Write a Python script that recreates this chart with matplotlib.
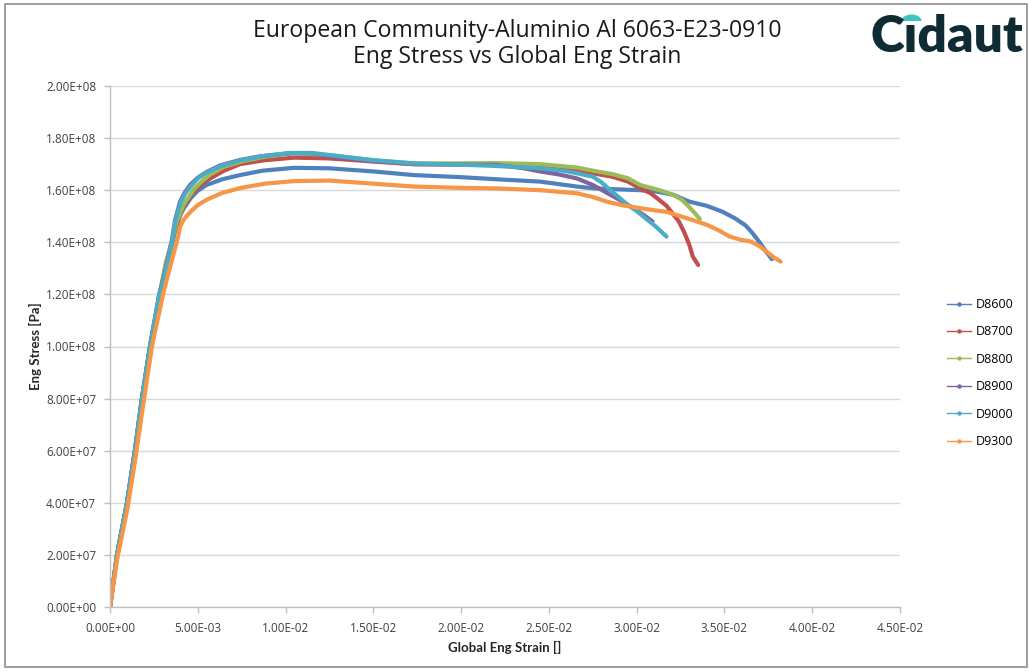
import matplotlib
matplotlib.use("Agg")
import matplotlib.pyplot as plt
from matplotlib.ticker import FuncFormatter, MultipleLocator
from matplotlib.lines import Line2D
from matplotlib.patches import Rectangle, Wedge

# ---------------- data (strain [-], stress [Pa]) ----------------
series_names = ["D8600", "D8700", "D8800", "D8900", "D9000", "D9300"]

d8600_strain = [0.0, 0.0004, 0.00097, 0.00142, 0.00182, 0.00228, 0.00284, 0.00330, 0.0037, 0.0040,
                0.0042, 0.0046, 0.0050, 0.0055, 0.0064, 0.0074, 0.0087, 0.0105, 0.0125, 0.0150,
                0.0173, 0.0200, 0.0220, 0.0245, 0.0266, 0.0276, 0.0290, 0.0302, 0.0312, 0.0321,
                0.0330, 0.0340, 0.0349, 0.0356, 0.0362, 0.0366, 0.0370, 0.0374, 0.0377]
d8600_stress = [0.0, 2.0e7, 4.0e7, 6.0e7, 8.0e7, 1.0e8, 1.2e8, 1.33e8, 1.44e8, 1.505e8,
                1.53e8, 1.57e8, 1.598e8, 1.62e8, 1.642e8, 1.658e8, 1.675e8, 1.686e8, 1.684e8, 1.672e8,
                1.658e8, 1.65e8, 1.642e8, 1.633e8, 1.614e8, 1.607e8, 1.603e8, 1.60e8, 1.594e8, 1.582e8,
                1.556e8, 1.54e8, 1.517e8, 1.492e8, 1.465e8, 1.435e8, 1.40e8, 1.362e8, 1.335e8]

d8700_strain = [0.0, 0.0004, 0.00097, 0.00142, 0.00182, 0.00228, 0.00283, 0.00320, 0.0036, 0.0038,
                0.0042, 0.0048, 0.0052, 0.0057, 0.0065, 0.0074, 0.0088, 0.0105, 0.0125, 0.0150,
                0.0173, 0.0200, 0.0220, 0.0245, 0.0263, 0.0275, 0.0286, 0.0295, 0.0302, 0.0308,
                0.0313, 0.0317, 0.0320, 0.0324, 0.0327, 0.0330, 0.0332, 0.0335]
d8700_stress = [0.0, 2.0e7, 4.0e7, 6.0e7, 8.0e7, 1.0e8, 1.2e8, 1.32e8, 1.42e8, 1.475e8,
                1.54e8, 1.595e8, 1.622e8, 1.645e8, 1.675e8, 1.70e8, 1.715e8, 1.725e8, 1.722e8, 1.71e8,
                1.70e8, 1.699e8, 1.698e8, 1.69e8, 1.68e8, 1.665e8, 1.652e8, 1.633e8, 1.607e8, 1.588e8,
                1.562e8, 1.54e8, 1.515e8, 1.48e8, 1.44e8, 1.39e8, 1.345e8, 1.313e8]

d8800_strain = [0.0, 0.0004, 0.00097, 0.00142, 0.00182, 0.00228, 0.00282, 0.00318, 0.0036, 0.0038,
                0.0042, 0.0048, 0.0052, 0.0057, 0.0065, 0.0076, 0.0088, 0.0105, 0.0125, 0.0150,
                0.0173, 0.0200, 0.0220, 0.0245, 0.0266, 0.0275, 0.0286, 0.0295, 0.0302, 0.0313,
                0.0321, 0.0326, 0.0330, 0.0336]
d8800_stress = [0.0, 2.0e7, 4.0e7, 6.0e7, 8.0e7, 1.0e8, 1.2e8, 1.32e8, 1.425e8, 1.48e8,
                1.545e8, 1.605e8, 1.632e8, 1.66e8, 1.69e8, 1.712e8, 1.728e8, 1.742e8, 1.735e8, 1.715e8,
                1.703e8, 1.703e8, 1.704e8, 1.70e8, 1.687e8, 1.675e8, 1.662e8, 1.646e8, 1.62e8, 1.60e8,
                1.582e8, 1.562e8, 1.535e8, 1.49e8]

d8900_strain = [0.0, 0.0004, 0.00097, 0.00142, 0.00182, 0.00228, 0.00280, 0.00302, 0.00351, 0.00371,
                0.00399, 0.00427, 0.00456, 0.0050, 0.00553, 0.00627, 0.0074, 0.00854, 0.0102, 0.0115,
                0.0125, 0.0150, 0.0173, 0.0200, 0.0220, 0.0235, 0.0245, 0.0256, 0.0266, 0.0275,
                0.0283, 0.0291, 0.0298, 0.0304, 0.0309]
d8900_stress = [0.0, 2.0e7, 4.0e7, 6.0e7, 8.0e7, 1.0e8, 1.2e8, 1.255e8, 1.40e8, 1.486e8,
                1.556e8, 1.592e8, 1.62e8, 1.648e8, 1.671e8, 1.695e8, 1.716e8, 1.73e8, 1.742e8, 1.742e8,
                1.73e8, 1.712e8, 1.70e8, 1.698e8, 1.697e8, 1.685e8, 1.672e8, 1.66e8, 1.645e8, 1.62e8,
                1.59e8, 1.56e8, 1.531e8, 1.505e8, 1.48e8]

d9000_strain = [0.0, 0.0004, 0.00097, 0.00142, 0.00182, 0.00228, 0.00281, 0.00305, 0.00353, 0.00373,
                0.0040, 0.0043, 0.0046, 0.0050, 0.0055, 0.0063, 0.0074, 0.0086, 0.0103, 0.0115,
                0.0125, 0.0150, 0.0173, 0.0200, 0.0220, 0.0245, 0.0258, 0.0266, 0.0275, 0.0280,
                0.0285, 0.0290, 0.0295, 0.0300, 0.0304, 0.0311, 0.0317]
d9000_stress = [0.0, 2.0e7, 4.0e7, 6.0e7, 8.0e7, 1.0e8, 1.2e8, 1.255e8, 1.40e8, 1.482e8,
                1.55e8, 1.588e8, 1.615e8, 1.645e8, 1.668e8, 1.692e8, 1.714e8, 1.73e8, 1.743e8, 1.743e8,
                1.735e8, 1.715e8, 1.703e8, 1.698e8, 1.693e8, 1.684e8, 1.675e8, 1.665e8, 1.652e8, 1.63e8,
                1.60e8, 1.572e8, 1.543e8, 1.52e8, 1.498e8, 1.46e8, 1.422e8]

d9300_strain = [0.0, 0.0004, 0.0010, 0.00147, 0.00190, 0.00239, 0.00302, 0.0034, 0.0038, 0.0040,
                0.0042, 0.0046, 0.0050, 0.0055, 0.0064, 0.0074, 0.0088, 0.0105, 0.0125, 0.0150,
                0.0173, 0.0200, 0.0220, 0.0245, 0.0266, 0.0275, 0.0283, 0.0292, 0.0302, 0.0310,
                0.0317, 0.0326, 0.0333, 0.0340, 0.0347, 0.0353, 0.0359, 0.0365, 0.0370, 0.0374,
                0.0378, 0.0382]
d9300_stress = [0.0, 1.8e7, 3.8e7, 5.8e7, 7.8e7, 1.0e8, 1.2e8, 1.30e8, 1.40e8, 1.46e8,
                1.488e8, 1.518e8, 1.543e8, 1.563e8, 1.59e8, 1.608e8, 1.625e8, 1.635e8, 1.637e8, 1.625e8,
                1.614e8, 1.609e8, 1.607e8, 1.60e8, 1.588e8, 1.574e8, 1.556e8, 1.542e8, 1.531e8, 1.523e8,
                1.517e8, 1.498e8, 1.483e8, 1.467e8, 1.445e8, 1.422e8, 1.41e8, 1.403e8, 1.385e8, 1.364e8,
                1.343e8, 1.326e8]

strains = [d8600_strain, d8700_strain, d8800_strain, d8900_strain, d9000_strain, d9300_strain]
stresses = [d8600_stress, d8700_stress, d8800_stress, d8900_stress, d9000_stress, d9300_stress]
colors = ["#4F81BD", "#C0504D", "#9BBB59", "#8064A2", "#4BACC6", "#F79646"]

title_lines = ["European Community-Aluminio Al 6063-E23-0910", "Eng Stress vs Global Eng Strain"]
x_label = "Global Eng Strain []"
y_label = "Eng Stress [Pa]"
logo_text = "C\u0131daut"

# ---------------- figure ----------------
W, H = 1030, 671
fig = plt.figure(figsize=(W / 100, H / 100), dpi=100)
fig.patch.set_facecolor("white")

# outer frame
fig.add_artist(Rectangle((5 / W, 1 - 667 / H), 1022 / W, 663 / H, transform=fig.transFigure,
                         fill=False, edgecolor="#8C8C8C", linewidth=1.2))

ax = fig.add_axes([110 / W, 1 - 607 / H, 790 / W, 521 / H])
for s, y, c in zip(strains, stresses, colors):
    ax.plot(s, y, color=c, linewidth=3.0, solid_joinstyle="round", solid_capstyle="round")

ax.set_xlim(0, 0.045)
ax.set_ylim(0, 2.0e8)
ax.xaxis.set_major_locator(MultipleLocator(0.005))
ax.yaxis.set_major_locator(MultipleLocator(2.0e7))
fmt = FuncFormatter(lambda v, p: f"{v:.2E}")
ax.xaxis.set_major_formatter(fmt)
ax.yaxis.set_major_formatter(fmt)
ax.grid(axis="y", color="#D9D9D9", linewidth=1.0)
ax.set_axisbelow(True)
for sp in ["top", "right"]:
    ax.spines[sp].set_visible(False)
for sp in ["left", "bottom"]:
    ax.spines[sp].set_color("#BFBFBF")
    ax.spines[sp].set_linewidth(1.0)
ax.tick_params(axis="both", colors="#BFBFBF", length=4, width=1, labelsize=8.5, labelcolor="#404040")
ax.tick_params(axis="x", pad=7)
ax.tick_params(axis="y", pad=6)
for lab in ax.get_xticklabels() + ax.get_yticklabels():
    lab.set_family("Open Sans")

ax.set_xlabel(x_label, fontsize=9.5, fontweight="bold", family="Lato", color="#262626")
ax.set_ylabel(y_label, fontsize=9.5, fontweight="bold", family="Lato", color="#262626")
ax.xaxis.label.set_va("center")
ax.yaxis.label.set_va("center")
ax.xaxis.set_label_coords((505 - 110) / 790, (607 - 647) / 521)
ax.yaxis.set_label_coords((35 - 110) / 790, 0.5)

# title
fig.text(517 / W, 1 - 31 / H, title_lines[0], ha="center", va="center", fontsize=16.6,
         family="Open Sans", color="#1a1a1a")
fig.text(517 / W, 1 - 57 / H, title_lines[1], ha="center", va="center", fontsize=16.6,
         family="Open Sans", color="#1a1a1a")

# legend
handles = [Line2D([0], [0], color=c, linewidth=1.0, marker="o", markersize=2.2) for c in colors]
fig.legend(handles, series_names, loc="center left", bbox_to_anchor=(936 / W, 1 - 373 / H),
           frameon=False, handlelength=1.9, labelspacing=1.15, handletextpad=0.35,
           prop={"family": "Open Sans", "size": 9})

# logo
logo_x, logo_y = 871, 37
t = fig.text(logo_x / W, 1 - logo_y / H, logo_text, ha="left", va="center", fontsize=37,
             fontweight="heavy", family="Lato", color="#0F2B33")
fig.canvas.draw()
r = fig.canvas.get_renderer()
tc = fig.text(0, 0, "C", fontsize=37, fontweight="heavy", family="Lato")
tci = fig.text(0, 0, "C\u0131", fontsize=37, fontweight="heavy", family="Lato")
wc = tc.get_window_extent(r).width
wci = tci.get_window_extent(r).width
tc.remove()
tci.remove()
cx = logo_x + (wc + wci) / 2
fig.add_artist(Wedge((cx / W, 1 - 21 / H), 10 / W, 0, 180, transform=fig.transFigure,
                     facecolor="#3CC4BE", edgecolor="none"))

fig.savefig("out.png", dpi=100, facecolor="white")
